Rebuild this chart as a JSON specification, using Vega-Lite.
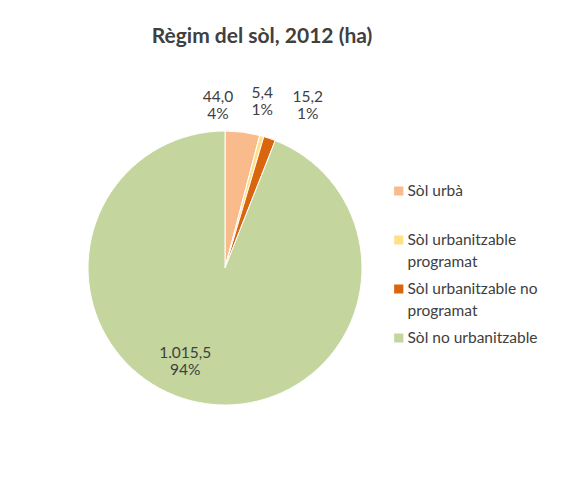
{
  "$schema": "https://vega.github.io/schema/vega-lite/v6.json",
  "width": 274,
  "height": 274,
  "autosize": {"type": "none"},
  "padding": {"left": 88, "top": 131, "right": 217, "bottom": 99},
  "background": "white",
  "config": {"view": {"stroke": null}, "font": "Lato", "style": {"guide-label": {"lineHeight": 22}}},
  "title": {
    "text": "Règim del sòl, 2012 (ha)",
    "font": "Lato",
    "fontSize": 21,
    "fontWeight": "bold",
    "color": "#404040",
    "anchor": "middle",
    "frame": "group",
    "dx": 37,
    "offset": 34
  },
  "data": {
    "values": [
      {"categoria": "Sòl urbà", "hectarees": 44.0, "ordre": 1, "etiqueta": "44,0\n4%"},
      {"categoria": "Sòl urbanitzable programat", "hectarees": 5.4, "ordre": 2, "etiqueta": "5,4\n1%"},
      {"categoria": "Sòl urbanitzable no programat", "hectarees": 15.2, "ordre": 3, "etiqueta": "15,2\n1%"},
      {"categoria": "Sòl no urbanitzable", "hectarees": 1015.5, "ordre": 4, "etiqueta": "1.015,5\n94%"}
    ]
  },
  "encoding": {
    "theta": {"field": "hectarees", "type": "quantitative", "stack": true},
    "order": {"field": "ordre", "type": "quantitative"}
  },
  "layer": [
    {
      "mark": {"type": "arc", "stroke": "white", "strokeWidth": 1},
      "encoding": {
        "color": {
          "field": "categoria",
          "type": "nominal",
          "scale": {
            "domain": ["Sòl urbà", "Sòl urbanitzable programat", "Sòl urbanitzable no programat", "Sòl no urbanitzable"],
            "range": ["#F9BB8B", "#FFE08A", "#D9650E", "#C4D69D"]
          },
          "legend": {
            "title": null,
            "orient": "none",
            "legendX": 303,
            "legendY": 52,
            "symbolType": "square",
            "symbolSize": 85,
            "symbolStrokeWidth": 0,
            "labelFont": "Lato",
            "labelFontSize": 15.5,
            "labelColor": "#404040",
            "labelOffset": 1,
            "labelLimit": 250,
            "gridAlign": "all",
            "clipHeight": 16,
            "rowPadding": 10,
            "labelExpr": "datum.label == 'Sòl urbanitzable programat' ? ['Sòl urbanitzable', 'programat'] : datum.label == 'Sòl urbanitzable no programat' ? ['Sòl urbanitzable no', 'programat'] : datum.label"
          }
        }
      }
    },
    {
      "mark": {"type": "text", "radius": 165, "dx": -28, "dy": -7, "fontSize": 15.5, "lineBreak": "\n", "lineHeight": 17, "color": "#404040", "font": "Lato"},
      "encoding": {
        "detail": {"field": "categoria"},
        "text": {"condition": {"test": "datum.ordre == 1", "field": "etiqueta"}, "value": ""}
      }
    },
    {
      "mark": {"type": "text", "radius": 165, "dx": -7, "dy": -16, "fontSize": 15.5, "lineBreak": "\n", "lineHeight": 17, "color": "#404040", "font": "Lato"},
      "encoding": {
        "detail": {"field": "categoria"},
        "text": {"condition": {"test": "datum.ordre == 2", "field": "etiqueta"}, "value": ""}
      }
    },
    {
      "mark": {"type": "text", "radius": 165, "dx": 29, "dy": -15, "fontSize": 15.5, "lineBreak": "\n", "lineHeight": 17, "color": "#404040", "font": "Lato"},
      "encoding": {
        "detail": {"field": "categoria"},
        "text": {"condition": {"test": "datum.ordre == 3", "field": "etiqueta"}, "value": ""}
      }
    },
    {
      "mark": {"type": "text", "radius": 95, "dx": -22, "dy": -8, "fontSize": 15.5, "lineBreak": "\n", "lineHeight": 17, "color": "#404040", "font": "Lato"},
      "encoding": {
        "detail": {"field": "categoria"},
        "text": {"condition": {"test": "datum.ordre == 4", "field": "etiqueta"}, "value": ""}
      }
    }
  ]
}
